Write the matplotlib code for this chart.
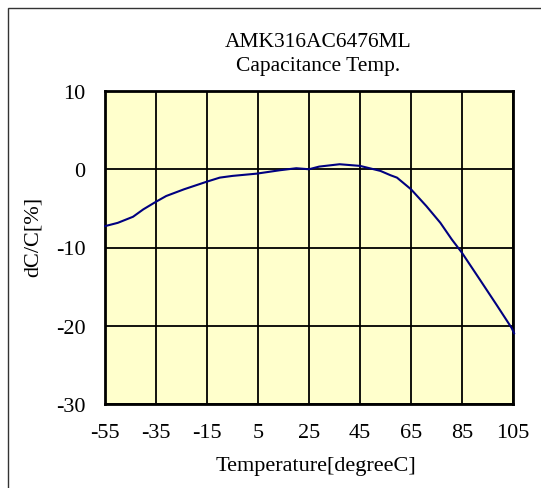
import matplotlib
matplotlib.use("Agg")
import matplotlib.pyplot as plt
from matplotlib.patches import Rectangle

temps = [-55, -50, -44, -40, -35, -31, -24, -15, -10, -5, 4.5, 13.5, 20, 25, 29, 37, 45,
         53, 57, 59.5, 65, 71, 76.5, 81, 85, 92, 98.5, 104.5, 105.5]
dcc = [-7.27, -6.85, -6.07, -5.13, -4.15, -3.42, -2.56, -1.58, -1.07, -0.85, -0.56, -0.13, 0.13, 0.0, 0.34, 0.64, 0.43,
       -0.21, -0.77, -1.07, -2.56, -4.7, -6.84, -8.97, -10.68, -14.1, -17.3, -20.3, -21.0]
xticks = [-55, -35, -15, 5, 25, 45, 65, 85, 105]
yticks = [-30, -20, -10, 0, 10]

plt.rcParams['font.family'] = ['Liberation Serif', 'DejaVu Serif']
plt.rcParams['axes.unicode_minus'] = False

fig = plt.figure(figsize=(5.41, 4.89), dpi=100)
ax = fig.add_axes([105/541, 1-405/489, (513-105)/541, (405-92)/489])
ax.set_facecolor('#FFFFCC')
ax.plot(temps, dcc, color='#000080', lw=1.5, clip_on=False, zorder=3,
        solid_joinstyle='round', solid_capstyle='round')
ax.set_xlim(-55, 105)
ax.set_ylim(-30, 10)
ax.set_xticks(xticks)
ax.set_yticks(yticks)
ax.grid(True, color='black', lw=1.3, zorder=1)
ax.set_axisbelow(True)
for s in ax.spines.values():
    s.set_linewidth(2)
    s.set_color('black')
ax.tick_params(length=0, labelsize=16)
ax.tick_params(axis='y', pad=14)
ax.tick_params(axis='x', pad=14)

fig.text(318/541, 1-47/489, 'AMK316AC6476ML', ha='center', va='baseline', fontsize=15.5)
fig.text(318/541, 1-71/489, 'Capacitance Temp.', ha='center', va='baseline', fontsize=15.5)
fig.text(316/541, 1-471/489, 'Temperature[degreeC]', ha='center', va='baseline', fontsize=16)
fig.text(33/541, 1-237/489, 'dC/C[%]', ha='center', va='center', rotation=90, fontsize=16)

fig.patches.append(Rectangle((8/541, -0.1), 1.2, 1-9/489+0.1, transform=fig.transFigure,
                             fill=False, edgecolor='#333333', lw=1.0))

fig.savefig('out.png', dpi=100)
